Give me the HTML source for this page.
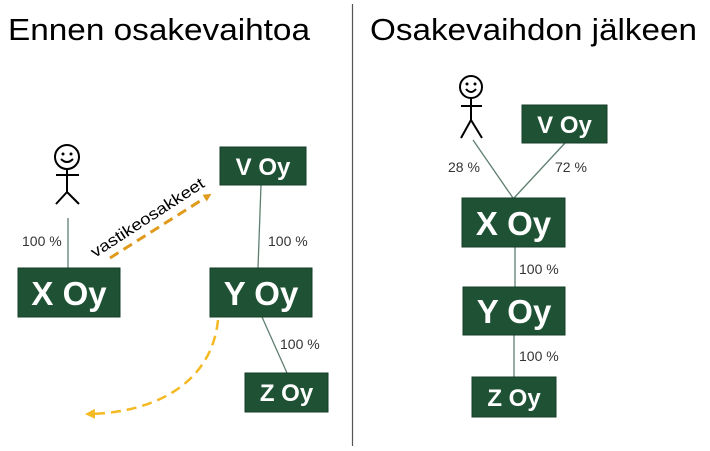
<!DOCTYPE html>
<html><head><meta charset="utf-8"><style>
html,body{margin:0;padding:0;background:#fff;}
svg{display:block;font-family:"Liberation Sans",Arial,sans-serif;}
</style></head><body>
<svg width="710" height="451" viewBox="0 0 710 451" xmlns="http://www.w3.org/2000/svg">
<defs>
<marker id="ao" markerWidth="8" markerHeight="8" refX="4" refY="4" orient="auto" markerUnits="userSpaceOnUse"><path d="M0,0 L8,4 L0,8 z" fill="#e09a1c"/></marker>
<marker id="ay" markerWidth="10" markerHeight="10" refX="5" refY="5" orient="auto" markerUnits="userSpaceOnUse"><path d="M0,0 L10,5 L0,10 z" fill="#f4b923"/></marker>
</defs>
<text x="8" y="40" font-size="31" textLength="302" lengthAdjust="spacingAndGlyphs" fill="#000">Ennen osakevaihtoa</text>
<text x="370" y="40" font-size="31" textLength="327" lengthAdjust="spacingAndGlyphs" fill="#000">Osakevaihdon jälkeen</text>
<line x1="352.5" y1="4" x2="352.5" y2="446" stroke="#555" stroke-width="1.2"/>

<g stroke="#000" stroke-width="2" fill="none">
<circle cx="67" cy="157" r="12"/>
<line x1="67" y1="169" x2="67" y2="192"/><line x1="56" y1="175" x2="79" y2="175"/>
<line x1="67" y1="192" x2="56" y2="204"/><line x1="67" y1="192" x2="79" y2="204"/>
<path d="M61,159 Q67,165 73,159"/>
<circle cx="471" cy="87" r="11"/>
<line x1="471" y1="98" x2="471" y2="120"/><line x1="461" y1="106" x2="482" y2="106"/>
<line x1="471" y1="120" x2="461" y2="138"/><line x1="471" y1="120" x2="482" y2="138"/>
<path d="M466,89 Q471,95 476,89"/>
</g>
<g fill="#000"><circle cx="63" cy="154" r="1.5"/><circle cx="71" cy="154" r="1.5"/><circle cx="467" cy="84" r="1.5"/><circle cx="475" cy="84" r="1.5"/></g>

<g stroke="#5f7f6f" stroke-width="1.3">
<line x1="68" y1="218" x2="68" y2="268"/>
<line x1="261" y1="185" x2="258" y2="268"/>
<line x1="262" y1="317" x2="287" y2="373"/>
<line x1="473" y1="140" x2="513" y2="198"/>
<line x1="565" y1="143" x2="514" y2="198"/>
<line x1="515" y1="247" x2="515" y2="287"/>
<line x1="514" y1="335" x2="514" y2="377"/>
</g>

<g fill="#1f5234" stroke="#163d27" stroke-width="1">
<rect x="18" y="268" width="102" height="49"/>
<rect x="220" y="147" width="86" height="38"/>
<rect x="210" y="268" width="102" height="49"/>
<rect x="245" y="373" width="83" height="39"/>
<rect x="522" y="105" width="85" height="38"/>
<rect x="462" y="198" width="103" height="49"/>
<rect x="463" y="287" width="102" height="48"/>
<rect x="472" y="377" width="84" height="40"/>
</g>
<g fill="#fff" font-weight="bold" text-anchor="middle">
<text x="69" y="305" font-size="33">X Oy</text>
<text x="263" y="175" font-size="24">V Oy</text>
<text x="261" y="305" font-size="33">Y Oy</text>
<text x="286.5" y="401" font-size="24">Z Oy</text>
<text x="564.5" y="133" font-size="24">V Oy</text>
<text x="513.5" y="235" font-size="33">X Oy</text>
<text x="514" y="323" font-size="33">Y Oy</text>
<text x="514" y="406" font-size="24">Z Oy</text>
</g>
<g fill="#333" font-size="14">
<text x="22" y="246">100 %</text>
<text x="268" y="246">100 %</text>
<text x="280" y="349">100 %</text>
<text x="448" y="172">28 %</text>
<text x="555" y="172">72 %</text>
<text x="519" y="274">100 %</text>
<text x="519" y="361">100 %</text>
</g>

<line x1="110" y1="258" x2="208" y2="196" stroke="#e09a1c" stroke-width="3" stroke-dasharray="10,6" marker-end="url(#ao)"/>
<text x="0" y="0" font-size="16" fill="#000" transform="translate(95,258) rotate(-33)" textLength="132" lengthAdjust="spacingAndGlyphs">vastikeosakkeet</text>
<path d="M218,320 C212,380 160,412 90,414" stroke="#f4b923" stroke-width="2.5" fill="none" stroke-dasharray="10,6" marker-end="url(#ay)"/>
</svg>
</body></html>
